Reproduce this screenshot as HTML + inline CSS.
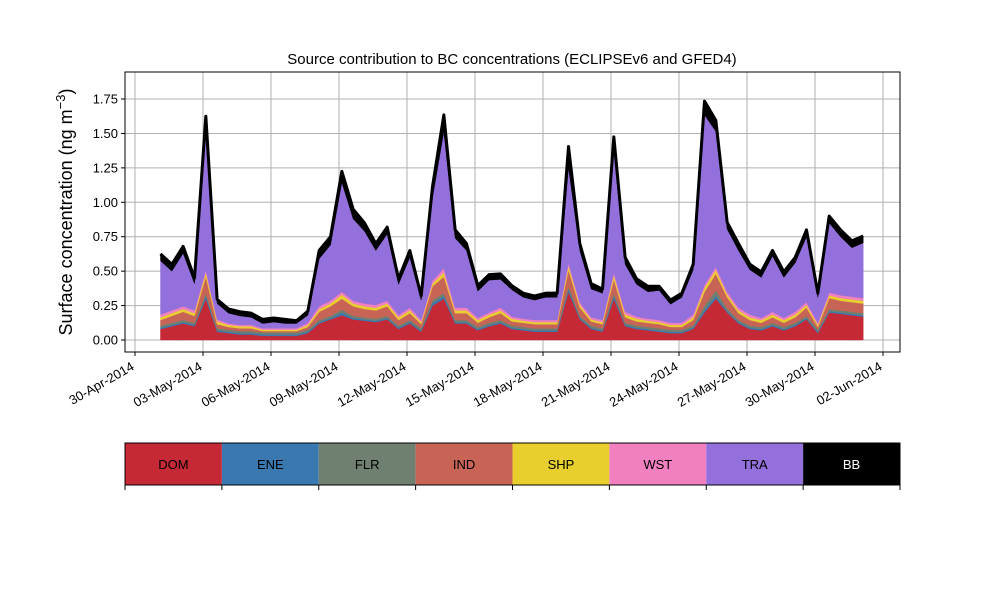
<!DOCTYPE html>
<html><head><meta charset="utf-8"><style>
body{margin:0;background:#fff;}
svg text{font-family:"Liberation Sans","DejaVu Sans",sans-serif;}
</style></head><body>
<svg id="chart" width="1000" height="600" xmlns="http://www.w3.org/2000/svg">
<rect width="1000" height="600" fill="#fff"/>
<g id="grid"></g><g id="areas"></g><g id="axes"></g><g id="legend"></g>
</svg>
<script>
const seriesNames = ["DOM","ENE","FLR","IND","SHP","WST","TRA","BB"];
const seriesColors = ["#c62936","#3a78b0","#6f7f70","#c86456","#e8cf2e","#f080c0","#9370db","#000000"];
const yTicks = [0,0.25,0.5,0.75,1.0,1.25,1.5,1.75];
const xTickLabels = ["30-Apr-2014","03-May-2014","06-May-2014","09-May-2014","12-May-2014","15-May-2014","18-May-2014","21-May-2014","24-May-2014","27-May-2014","30-May-2014","02-Jun-2014"];
const xTickDays = [-1,2,5,8,11,14,17,20,23,26,29,32];
const startDay = 0.125, stepDay = 0.5;
const DOM = [0.08,0.10,0.12,0.10,0.30,0.06,0.05,0.04,0.04,0.03,0.03,0.03,0.03,0.05,0.12,0.15,0.18,0.15,0.14,0.13,0.15,0.08,0.12,0.06,0.25,0.30,0.12,0.12,0.07,0.10,0.12,0.08,0.07,0.06,0.06,0.06,0.35,0.15,0.08,0.06,0.30,0.10,0.08,0.07,0.06,0.05,0.05,0.08,0.20,0.30,0.20,0.12,0.08,0.07,0.10,0.07,0.10,0.15,0.05,0.20,0.19,0.18,0.17];
const ENE = [0.01,0.01,0.01,0.01,0.02,0.01,0.01,0.01,0.01,0.01,0.01,0.01,0.01,0.01,0.01,0.01,0.02,0.01,0.01,0.01,0.01,0.01,0.01,0.01,0.02,0.02,0.01,0.01,0.01,0.01,0.01,0.01,0.01,0.01,0.01,0.01,0.02,0.01,0.01,0.01,0.02,0.01,0.01,0.01,0.01,0.01,0.01,0.01,0.02,0.02,0.01,0.01,0.01,0.01,0.01,0.01,0.01,0.01,0.01,0.01,0.01,0.01,0.01];
const FLR = [0.015,0.015,0.015,0.015,0.02,0.015,0.015,0.015,0.015,0.015,0.015,0.015,0.015,0.015,0.015,0.015,0.02,0.015,0.015,0.015,0.015,0.015,0.015,0.015,0.02,0.02,0.015,0.015,0.015,0.015,0.015,0.015,0.015,0.015,0.015,0.015,0.02,0.015,0.015,0.015,0.02,0.015,0.015,0.015,0.015,0.015,0.015,0.015,0.03,0.04,0.02,0.015,0.015,0.015,0.015,0.015,0.015,0.015,0.015,0.015,0.015,0.015,0.015];
const IND = [0.04,0.05,0.06,0.05,0.12,0.03,0.02,0.02,0.02,0.01,0.01,0.01,0.01,0.02,0.06,0.07,0.08,0.07,0.06,0.06,0.07,0.04,0.05,0.03,0.10,0.12,0.05,0.05,0.03,0.04,0.05,0.03,0.03,0.03,0.03,0.03,0.12,0.06,0.03,0.03,0.10,0.04,0.03,0.03,0.03,0.02,0.02,0.04,0.10,0.12,0.08,0.05,0.04,0.03,0.04,0.03,0.04,0.06,0.02,0.08,0.07,0.07,0.07];
const SHP = [0.02,0.02,0.02,0.02,0.03,0.02,0.015,0.015,0.015,0.01,0.01,0.01,0.01,0.015,0.02,0.02,0.03,0.02,0.02,0.02,0.02,0.02,0.02,0.015,0.02,0.03,0.02,0.02,0.02,0.02,0.02,0.02,0.015,0.015,0.015,0.015,0.03,0.02,0.015,0.015,0.03,0.02,0.02,0.015,0.015,0.015,0.015,0.02,0.03,0.03,0.02,0.02,0.02,0.02,0.02,0.02,0.02,0.02,0.015,0.02,0.02,0.02,0.02];
const WST = [0.02,0.02,0.02,0.02,0.02,0.015,0.01,0.01,0.01,0.01,0.01,0.01,0.01,0.015,0.02,0.02,0.02,0.02,0.02,0.02,0.02,0.015,0.02,0.015,0.02,0.03,0.02,0.02,0.015,0.015,0.02,0.015,0.015,0.015,0.015,0.015,0.02,0.02,0.015,0.015,0.02,0.02,0.015,0.015,0.015,0.015,0.015,0.02,0.02,0.02,0.02,0.02,0.02,0.015,0.02,0.015,0.02,0.02,0.015,0.02,0.02,0.02,0.02];
const TRA = [0.39,0.285,0.385,0.195,1.015,0.115,0.075,0.065,0.055,0.035,0.045,0.035,0.035,0.055,0.345,0.405,0.795,0.595,0.525,0.395,0.485,0.225,0.365,0.145,0.605,0.995,0.505,0.415,0.195,0.235,0.205,0.195,0.155,0.145,0.165,0.165,0.695,0.375,0.205,0.195,0.885,0.345,0.235,0.195,0.215,0.135,0.185,0.325,1.235,0.985,0.455,0.415,0.325,0.295,0.405,0.295,0.355,0.475,0.185,0.505,0.425,0.355,0.40];
const BB = [0.05,0.05,0.05,0.04,0.10,0.03,0.03,0.03,0.03,0.03,0.03,0.03,0.02,0.03,0.06,0.06,0.08,0.07,0.06,0.05,0.05,0.04,0.05,0.03,0.08,0.12,0.06,0.05,0.04,0.04,0.04,0.03,0.03,0.03,0.03,0.03,0.15,0.05,0.04,0.03,0.10,0.05,0.04,0.04,0.03,0.03,0.03,0.04,0.10,0.08,0.05,0.05,0.04,0.04,0.04,0.04,0.04,0.05,0.03,0.05,0.05,0.05,0.05];
const allSeries = [DOM,ENE,FLR,IND,SHP,WST,TRA,BB];

const NS="http://www.w3.org/2000/svg";
const L=125,R=900,T=72,B=352;
function xPos(day){return 157.67+day*22.667;}
function yPos(v){return 340-v*137.7;}
function mk(tag,attrs,parent){const e=document.createElementNS(NS,tag);for(const k in attrs)e.setAttribute(k,attrs[k]);parent.appendChild(e);return e;}
const grid=document.getElementById('grid'),areas=document.getElementById('areas'),axes=document.getElementById('axes'),legend=document.getElementById('legend');

yTicks.forEach((v,i)=>{
  const g=mk('line',{x1:L,x2:R,y1:yPos(v),y2:yPos(v),stroke:'#b0b0b0','stroke-width':1},grid);
  
  
  const t=mk('line',{x1:L-4,x2:L,y1:yPos(v),y2:yPos(v),stroke:'#000'},axes);
  
  
  const lab=mk('text',{x:L-7,y:yPos(v)+4.5,'text-anchor':'end','font-size':13},axes);
  lab.textContent=v.toFixed(2);
  
  
});
xTickDays.forEach((d,i)=>{
  const x=xPos(d);
  const g=mk('line',{x1:x,x2:x,y1:T,y2:B,stroke:'#b0b0b0','stroke-width':1},grid);
  
  
  const t=mk('line',{x1:x,x2:x,y1:B,y2:B+4,stroke:'#000'},axes);
  
  
  const lab=mk('text',{x:x,y:B+17,'text-anchor':'end','font-size':13,transform:`rotate(-30 ${x} ${B+17})`},axes);
  lab.textContent=xTickLabels[i];
  
  
});

const n=DOM.length;
let cum=new Array(n).fill(0);
allSeries.forEach((s,k)=>{
  const lower=cum.slice();
  const upper=cum.map((c,i)=>c+s[i]);
  let d='';
  for(let i=0;i<n;i++)d+=(i?'L':'M')+xPos(startDay+i*stepDay).toFixed(2)+','+yPos(upper[i]).toFixed(2);
  for(let i=n-1;i>=0;i--)d+='L'+xPos(startDay+i*stepDay).toFixed(2)+','+yPos(lower[i]).toFixed(2);
  d+='Z';
  const p=mk('path',{d:d,fill:seriesColors[k],stroke:seriesColors[k],'stroke-width':0.5},areas);
  
  
  cum=upper;
});
let ld='';
for(let i=0;i<n;i++)ld+=(i?'L':'M')+xPos(startDay+i*stepDay).toFixed(2)+','+yPos(cum[i]).toFixed(2);
const tl=mk('path',{d:ld,fill:'none',stroke:'#000','stroke-width':3,'stroke-linejoin':'round'},areas);



const fr=mk('rect',{x:L,y:T,width:R-L,height:B-T,fill:'none',stroke:'#000','stroke-width':1},axes);


const title=mk('text',{x:512,y:64,'text-anchor':'middle','font-size':15},axes);
title.textContent='Source contribution to BC concentrations (ECLIPSEv6 and GFED4)';


const yl=mk('text',{x:72,y:212,'text-anchor':'middle','font-size':18,transform:'rotate(-90 72 212)'},axes);
yl.innerHTML='Surface concentration (ng m<tspan dy="-7" font-size="13">−3</tspan><tspan dy="7">)</tspan>';



const lw=(R-L)/8;
seriesNames.forEach((nm,k)=>{
  const r=mk('rect',{x:L+k*lw,y:443,width:lw,height:42,fill:seriesColors[k]},legend);
  
  
  const t=mk('text',{x:L+k*lw+lw/2,y:469,'text-anchor':'middle','font-size':13,fill:nm==='BB'?'#fff':'#000'},legend);
  t.textContent=nm;
  
  
});
for(let k=0;k<=8;k++){
  const t=mk('line',{x1:L+k*lw,x2:L+k*lw,y1:485,y2:490,stroke:'#000'},legend);
  
  
}
const lf=mk('rect',{x:L,y:443,width:R-L,height:42,fill:'none',stroke:'#000','stroke-width':1},legend);


</script>
</body></html>
